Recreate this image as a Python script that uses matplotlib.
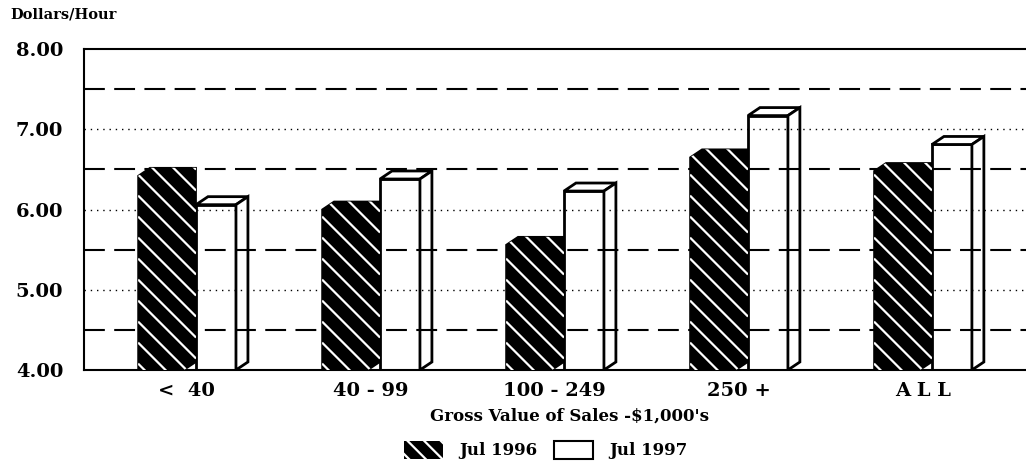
import numpy as np
import matplotlib
matplotlib.use("Agg")
import matplotlib.pyplot as plt
from matplotlib.patches import Patch, Polygon

plt.rcParams['font.family'] = ['DejaVu Serif']
plt.rcParams['font.weight'] = 'bold'
plt.rcParams['hatch.linewidth'] = 1.6

### DATA ###
categories = ["<  40", "40 - 99", "100 - 249", "250 +", "A L L"]
jul_1996 = [6.42, 6.00, 5.56, 6.65, 6.48]
jul_1997 = [6.06, 6.38, 6.23, 7.17, 6.81]
series_names = ["Jul 1996", "Jul 1997"]
y_ticks = [4.0, 5.0, 6.0, 7.0, 8.0]
dashed_lines = [4.5, 5.5, 6.5, 7.5]
dotted_lines = [5.0, 6.0, 7.0]

### LAYOUT ###
fig = plt.figure(figsize=(10.26, 4.61), dpi=100)
ax = fig.add_axes([84/1026, 1-370/461, 1-84/1026, (370-49)/461])

ymin, ymax = 4.0, 8.0
xmin, xmax = -0.609, 4.511
ax.set_xlim(xmin, xmax)
ax.set_ylim(ymin, ymax)

# 3d box offsets in data units
dx = 0.065
dy = 0.10
dark_w = 0.25
light_w = 0.217

# slope of a 45 degree line in data units, and hatch spacing (about 21 px)
px_x = 942 / (xmax - xmin)
px_y = 321 / (ymax - ymin)
k = px_x / px_y
step = 21 / px_y

xpos = np.arange(len(categories))

# Jul 1996 - solid black boxes with white diagonal lines
for x, v in zip(xpos, jul_1996):
    x0 = x - dark_w - dx
    x1 = x - dx
    xs = [x0, x0, x0 + dx, x1 + dx, x1 + dx, x1]
    ys = [ymin, v, v + dy, v + dy, ymin + dy, ymin]
    box = Polygon(np.column_stack([xs, ys]), closed=True, facecolor='black',
                  edgecolor='black', lw=1.2, zorder=4)
    ax.add_patch(box)
    span = (x1 + dx) - x0
    for c in np.arange(ymin + 0.08, v + dy + k * span, step):
        ln, = ax.plot([x0, x1 + dx], [c, c - k * span], color='white', lw=1.6,
                      zorder=4.5, solid_capstyle='butt')
        ln.set_clip_path(box)

# Jul 1997 - white boxes with outline
for x, v in zip(xpos, jul_1997):
    x0 = x
    x1 = x + light_w
    ax.fill([x0, x1, x1, x0], [ymin, ymin, v, v], facecolor='white', edgecolor='black', lw=2, zorder=2)
    ax.fill([x0, x1, x1 + dx, x0 + dx], [v, v, v + dy, v + dy], facecolor='white', edgecolor='black', lw=2, zorder=2)
    ax.fill([x1, x1 + dx, x1 + dx, x1], [ymin, ymin + dy, v + dy, v], facecolor='white', edgecolor='black', lw=2, zorder=2)

# grid lines
for g in dashed_lines:
    ax.axhline(g, color='black', lw=1.5, linestyle=(0, (10, 4.5)), zorder=3)
for g in dotted_lines:
    ax.axhline(g, color='black', lw=1.0, linestyle=(0, (1, 3.5)), zorder=3)

# axes styling
ax.spines['right'].set_visible(False)
for s in ['left', 'top', 'bottom']:
    ax.spines[s].set_linewidth(1.5)
ax.set_yticks(y_ticks)
ax.set_yticklabels(["%.2f" % t for t in y_ticks], fontsize=14, fontweight='bold')
ax.set_xticks(xpos - 0.05)
ax.set_xticklabels(categories, fontsize=14, fontweight='bold')
ax.tick_params(axis='y', length=0, pad=15)
ax.tick_params(axis='x', length=0, pad=9)

fig.text(10/1026, 1-14/461, "Dollars/Hour", fontsize=10.5, fontweight='bold', ha='left', va='center')
fig.text(569/1026, 1-416/461, "Gross Value of Sales -$1,000's", fontsize=12, fontweight='bold',
         ha='center', va='center')

handles = [Patch(facecolor='black', edgecolor='white', hatch='\\\\', lw=0),
           Patch(facecolor='white', edgecolor='black', lw=1.5)]
fig.legend(handles, series_names, loc='center', bbox_to_anchor=(546/1026, 1-450/461), ncol=2,
           frameon=False, handlelength=2.3, handleheight=1.3,
           handletextpad=1.0, columnspacing=1.0, prop={'weight': 'bold', 'size': 12})

fig.savefig("out.png", dpi=100)
